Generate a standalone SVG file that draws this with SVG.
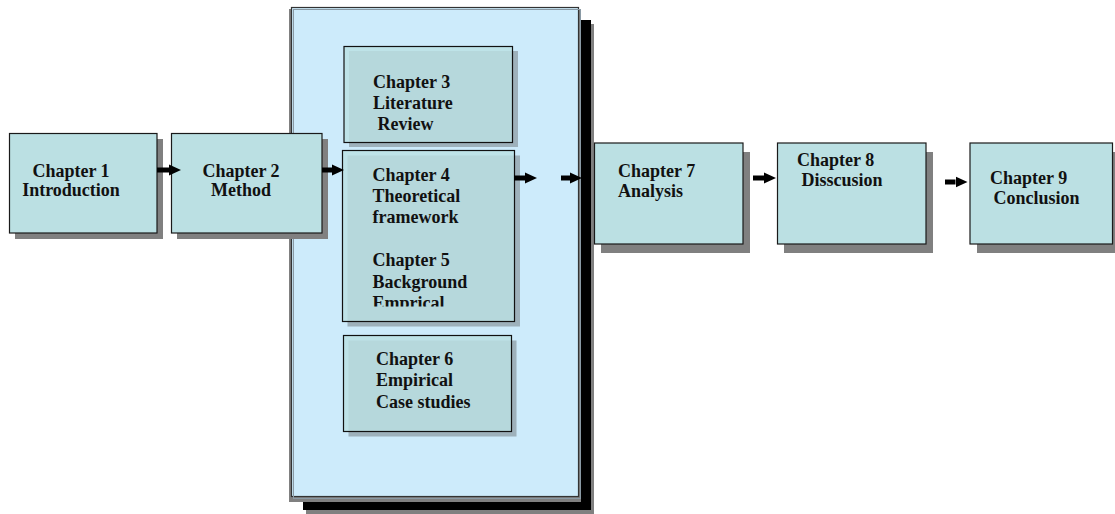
<svg xmlns="http://www.w3.org/2000/svg" width="1115" height="514" viewBox="0 0 1115 514">
<style>
.box{fill:#bbe0e3;stroke:#1a1a1a;stroke-width:1.2}
.sh{fill:#808080}
.ibox{fill:#bbe0e3;fill-opacity:0.82;stroke:#111;stroke-width:1.2}
.ish{fill:#8e9ea6;fill-opacity:0.75}
.t{font-family:"Liberation Serif","Times New Roman",serif;font-weight:bold;font-size:18px;fill:#111}
.ar{stroke:#000;stroke-width:5;marker-end:url(#ah)}
</style>
<defs>
<marker id="ah" markerUnits="userSpaceOnUse" markerWidth="12" markerHeight="12" refX="0" refY="6" orient="auto" viewBox="0 0 12 12">
<path d="M0,0.5 L12,6 L0,11.5 Z" fill="#000"/>
</marker>
<clipPath id="c4"><rect x="342" y="150" width="175" height="156.5"/></clipPath>
</defs>
<rect width="1115" height="514" fill="#fff"/>
<g id="container">
<rect x="306" y="24" width="288" height="490" fill="#808080"/>
<rect x="303" y="20" width="288" height="490" fill="#000"/>
<rect x="289" y="9" width="292" height="493" fill="#808080"/>
<rect x="291.5" y="7.5" width="287" height="489" fill="#cdebfb" stroke="#333" stroke-width="1.2"/>
<rect x="293.5" y="9.5" width="287" height="489" fill="none" stroke="#8a9aa5" stroke-width="1"/>
</g>
<g id="ch1">
<rect class="sh" x="15" y="139" width="148" height="100"/>
<rect class="box" x="9.5" y="133.5" width="147.5" height="99.5"/>
<text class="t" text-anchor="middle"><tspan x="71" y="177">Chapter 1</tspan><tspan x="71" y="196">Introduction</tspan></text>
</g>
<g id="ch2">
<rect class="sh" x="177" y="139" width="151" height="100"/>
<rect class="box" x="171.5" y="133.5" width="150.5" height="99.5"/>
<text class="t" text-anchor="middle"><tspan x="241" y="177">Chapter 2</tspan><tspan x="241" y="196">Method</tspan></text>
</g>
<g id="ch3">
<rect class="ish" x="349" y="51" width="169" height="96"/>
<rect class="ibox" x="344" y="46.5" width="168.5" height="96"/>
<text class="t"><tspan x="373" y="88">Chapter 3</tspan><tspan x="373" y="109">Literature</tspan><tspan x="377.5" y="130">Review</tspan></text>
</g>
<g id="ch4">
<rect class="ish" x="347.5" y="155.5" width="172.5" height="171"/>
<rect class="ibox" x="342.5" y="150.5" width="172" height="171"/>
<text class="t" clip-path="url(#c4)"><tspan x="372.5" y="181">Chapter 4</tspan><tspan x="372.5" y="202">Theoretical</tspan><tspan x="372.5" y="223">framework</tspan><tspan x="372.5" y="266">Chapter 5</tspan><tspan x="372.5" y="287.5">Background</tspan><tspan x="372.5" y="309">Emprical</tspan></text>
</g>
<g id="ch6">
<rect class="ish" x="348.5" y="340.5" width="168" height="96"/>
<rect class="ibox" x="343.5" y="335.5" width="168" height="96"/>
<text class="t"><tspan x="376" y="365">Chapter 6</tspan><tspan x="376" y="386">Empirical</tspan><tspan x="376" y="407.5">Case studies</tspan></text>
</g>
<g id="ch7">
<rect class="sh" x="601" y="152" width="149" height="101"/>
<rect class="box" x="594.5" y="143" width="148.5" height="101"/>
<text class="t"><tspan x="618" y="177">Chapter 7</tspan><tspan x="618" y="197">Analysis</tspan></text>
</g>
<g id="ch8">
<rect class="sh" x="784" y="152" width="149" height="101"/>
<rect class="box" x="777.5" y="143" width="148.5" height="101"/>
<text class="t"><tspan x="797" y="166">Chapter 8</tspan><tspan x="801.5" y="186">Disscusion</tspan></text>
</g>
<g id="ch9">
<rect class="sh" x="977" y="152" width="145" height="101"/>
<rect class="box" x="970" y="143" width="142.5" height="101"/>
<text class="t"><tspan x="990" y="184">Chapter 9</tspan><tspan x="993.5" y="204">Conclusion</tspan></text>
</g>
<g id="connectors">
<line class="ar" x1="157" y1="170" x2="169" y2="170"/>
<line class="ar" x1="322" y1="170" x2="332" y2="170"/>
<line class="ar" x1="514" y1="178" x2="525" y2="178"/>
<line class="ar" x1="561" y1="178" x2="570" y2="178"/>
<line class="ar" x1="753" y1="178" x2="764" y2="178"/>
<line class="ar" x1="945" y1="182" x2="955.5" y2="182"/>
</g>
</svg>
